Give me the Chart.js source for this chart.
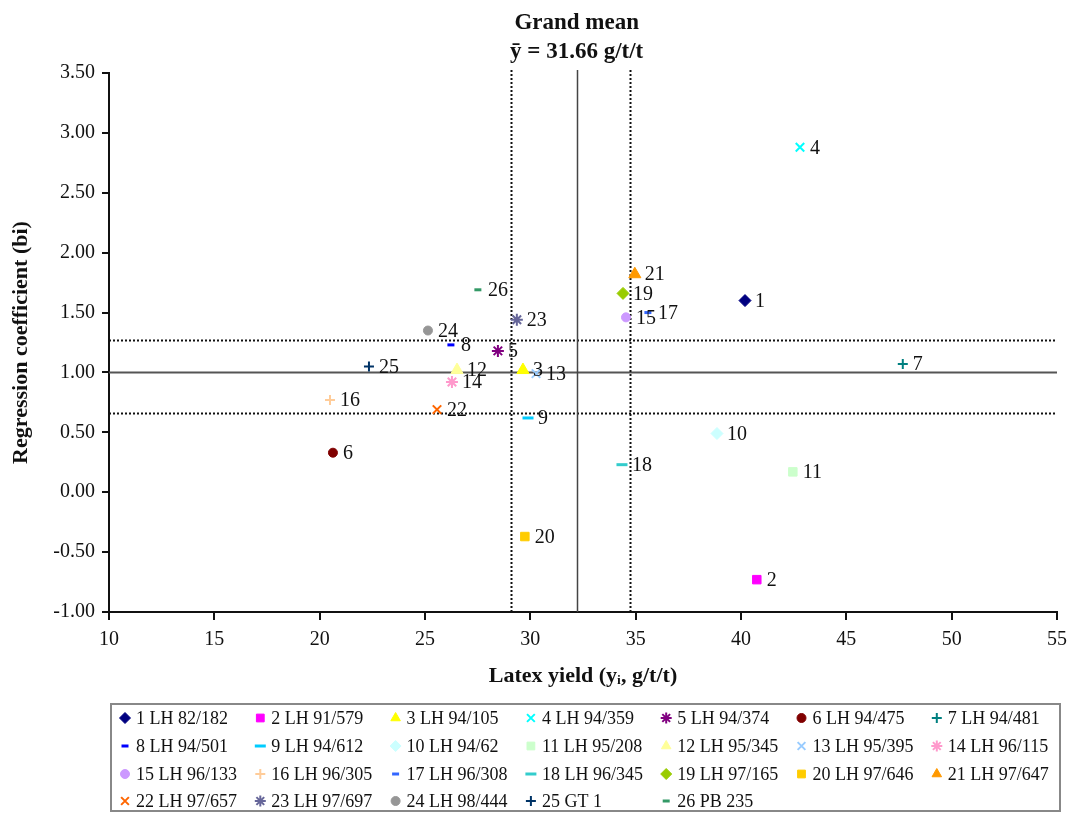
<!DOCTYPE html>
<html>
<head>
<meta charset="utf-8">
<script src="https://cdn.jsdelivr.net/npm/chart.js@4.4.0/dist/chart.umd.min.js"></script>
<style>
body { margin: 0; background: #fff; }
#wrap { width: 1071px; height: 814px; position: relative; }
</style>
</head>
<body>
<div id="wrap"><canvas id="grafico-estabilidade"></canvas></div>
<script>
// clones, latex yield (g/t/t) and regression coefficient bi
var clones = ['LH 82/182', 'LH 91/579', 'LH 94/105', 'LH 94/359', 'LH 94/374', 'LH 94/475', 'LH 94/481',
    'LH 94/501', 'LH 94/612', 'LH 94/62', 'LH 95/208', 'LH 95/345', 'LH 95/395', 'LH 96/115',
    'LH 96/133', 'LH 96/305', 'LH 96/308', 'LH 96/345', 'LH 97/165', 'LH 97/646', 'LH 97/647',
    'LH 97/657', 'LH 97/697', 'LH 98/444', 'GT 1', 'PB 235'];
var latexYield = [40.19, 40.75, 29.65, 42.80, 28.46, 20.63, 47.68,
    26.23, 29.89, 38.86, 42.46, 26.52, 30.27, 26.28,
    34.54, 20.49, 35.58, 34.35, 34.40, 29.74, 34.96,
    25.57, 29.36, 25.14, 22.34, 27.51];
var regCoef = [1.60, -0.73, 1.02, 2.88, 1.18, 0.33, 1.07,
    1.23, 0.62, 0.49, 0.17, 1.02, 0.99, 0.92,
    1.46, 0.77, 1.50, 0.23, 1.66, -0.37, 1.82,
    0.69, 1.44, 1.35, 1.05, 1.69];
// reference lines: dotted / solid (grand mean) / dotted
var refYield = [29.1, 32.2, 34.75];
var refCoef = [0.66, 1.00, 1.27];

var cores = ['#000080', '#FF00FF', '#FFFF00', '#00FFFF', '#800080', '#800000', '#008080',
    '#0000FF', '#00CCFF', '#CCFFFF', '#CCFFCC', '#FFFF99', '#99CCFF', '#FF99CC',
    '#CC99FF', '#FFCC99', '#3366FF', '#33CCCC', '#99CC00', '#FFCC00', '#FF9900',
    '#FF6600', '#666699', '#969696', '#003366', '#339966'];
var marcadores = [
    {s: 'rectRot', r: 6, w: 1}, {s: 'rect', r: 6, w: 1}, {s: 'triangle', r: 7, w: 1},
    {s: 'crossRot', r: 6, w: 2}, {s: 'star', r: 6, w: 2}, {s: 'circle', r: 4.5, w: 1},
    {s: 'cross', r: 5, w: 2}, {s: 'line', r: 3.5, w: 3}, {s: 'line', r: 5.5, w: 3}
];
var serif = "'Liberation Serif', 'Times New Roman', serif";

var datasets = clones.map(function(c, i) {
    var m = marcadores[i % marcadores.length];
    return {
        label: (i + 1) + ' ' + c,
        data: [{x: latexYield[i], y: regCoef[i]}],
        pointStyle: m.s,
        pointRadius: m.r,
        pointHoverRadius: m.r,
        pointBorderWidth: m.w,
        backgroundColor: cores[i],
        borderColor: cores[i]
    };
});

var linhasReferencia = {
    id: 'linhasReferencia',
    beforeDatasetsDraw: function(chart) {
        var ctx = chart.ctx, a = chart.chartArea, sx = chart.scales.x, sy = chart.scales.y;
        ctx.save();
        refCoef.forEach(function(v, i) {
            var py = Math.round(sy.getPixelForValue(v)) + 0.5;
            ctx.beginPath();
            if (i === 1) { ctx.setLineDash([]); ctx.strokeStyle = '#555'; }
            else { ctx.setLineDash([2, 2]); ctx.strokeStyle = '#111'; }
            ctx.lineWidth = 2;
            ctx.moveTo(a.left, py); ctx.lineTo(a.right, py); ctx.stroke();
        });
        refYield.forEach(function(v, i) {
            var px = Math.round(sx.getPixelForValue(v)) + 0.5;
            ctx.beginPath();
            if (i === 1) { ctx.setLineDash([]); ctx.strokeStyle = '#444'; ctx.lineWidth = 1.5; }
            else { ctx.setLineDash([2, 2]); ctx.strokeStyle = '#111'; ctx.lineWidth = 2; }
            ctx.moveTo(px, a.top - 3); ctx.lineTo(px, a.bottom); ctx.stroke();
        });
        // grand mean caption above the mean line
        ctx.setLineDash([]);
        ctx.fillStyle = '#111';
        ctx.font = 'bold 23px ' + serif;
        ctx.textAlign = 'center';
        ctx.textBaseline = 'middle';
        var cx = sx.getPixelForValue(refYield[1]);
        ctx.fillText('Grand mean', cx, 23);
        ctx.fillText('\u0233 = 31.66 g/t/t', cx, 52);
        ctx.restore();
    },
    afterDatasetsDraw: function(chart) {
        var ctx = chart.ctx;
        ctx.save();
        ctx.fillStyle = '#111';
        ctx.font = '20px ' + serif;
        ctx.textAlign = 'left';
        ctx.textBaseline = 'middle';
        chart.data.datasets.forEach(function(ds, i) {
            var el = chart.getDatasetMeta(i).data[0];
            ctx.fillText(String(i + 1), el.x + 10, el.y + 1);
        });
        ctx.restore();
    }
};

var legendaGrade = {
    id: 'legendaGrade',
    afterDraw: function(chart) {
        var ctx = chart.ctx;
        ctx.save();
        ctx.strokeStyle = '#888';
        ctx.lineWidth = 2;
        ctx.strokeRect(111, 704, 949, 107);
        ctx.font = '18px ' + serif;
        ctx.textBaseline = 'middle';
        ctx.textAlign = 'left';
        var rows = [718, 746, 774, 801];
        chart.data.datasets.forEach(function(ds, i) {
            var col = i % 7, row = Math.floor(i / 7);
            var x = 125 + col * 135.3, y = rows[row];
            ctx.fillStyle = ds.backgroundColor;
            ctx.strokeStyle = ds.borderColor;
            ctx.lineWidth = ds.pointBorderWidth;
            Chart.helpers.drawPoint(ctx, {pointStyle: ds.pointStyle, radius: Math.min(ds.pointRadius, 5.5), rotation: 0, borderWidth: ds.pointBorderWidth}, x, y);
            ctx.fillStyle = '#111';
            ctx.fillText(ds.label, x + 11, y + 1);
        });
        ctx.restore();
    }
};

function loadChartEstabilidade() {
    var ctx = document.getElementById('grafico-estabilidade').getContext('2d');
    window.myScatter = new Chart(ctx, {
        type: 'scatter',
        data: { datasets: datasets },
        options: {
            responsive: true,
            maintainAspectRatio: false,
            animation: false,
            layout: { padding: { left: 8, top: 73, right: 14, bottom: 122 } },
            plugins: {
                legend: { display: false },
                tooltip: { enabled: false }
            },
            scales: {
                x: {
                    type: 'linear',
                    min: 10, max: 55,
                    afterFit: function(s) { s.height = 80; s.paddingRight = 0; s.paddingLeft = 0; },
                    border: { display: true, color: '#111', width: 2 },
                    grid: { display: true, drawOnChartArea: false, drawTicks: true, tickLength: 8, tickColor: '#111', lineWidth: 2 },
                    ticks: { stepSize: 5, padding: 8, color: '#111', font: { family: serif, size: 20 } },
                    title: { display: true, text: 'Latex yield (y\u1D62, g/t/t)', color: '#111', padding: { top: 0, bottom: 2 }, font: { family: serif, size: 22, weight: 'bold' } }
                },
                y: {
                    type: 'linear',
                    min: -1, max: 3.5,
                    afterFit: function(s) { s.width = 101; },
                    border: { display: true, color: '#111', width: 2 },
                    grid: { display: true, drawOnChartArea: false, drawTicks: true, tickLength: 7, tickColor: '#111', lineWidth: 2 },
                    ticks: { stepSize: 0.5, padding: 7, color: '#111', font: { family: serif, size: 20 },
                        callback: function(v) { return v.toFixed(2); } },
                    title: { display: true, text: 'Regression coefficient (bi)', color: '#111', padding: { top: 0, bottom: 0 }, font: { family: serif, size: 22, weight: 'bold' } }
                }
            }
        },
        plugins: [linhasReferencia, legendaGrade]
    });
}

loadChartEstabilidade();
</script>
</body>
</html>
